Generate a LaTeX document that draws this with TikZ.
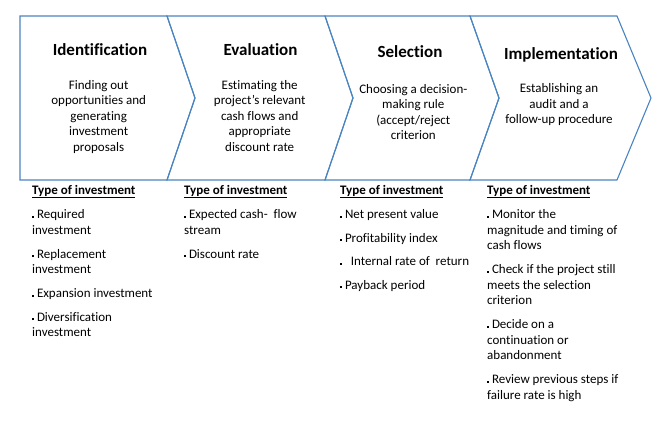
\documentclass[tikz,border=0pt]{standalone}
\usepackage{fontspec}
\setmainfont{Carlito}[Ligatures=NoCommon]
\usepackage{xcolor}
\usepackage{tikz}
\usetikzlibrary{positioning}

\definecolor{chevblue}{RGB}{74,132,192}
\newcommand\bul{\strut\rule[1pt]{1.8pt}{1.8pt}\hspace{3pt}}
\newcommand\hdline[1]{\setbox0\hbox{#1}\rlap{\rule[-3pt]{\wd0}{0.9pt}}\box0}

\begin{document}
\begin{tikzpicture}[x=1pt, y=-1pt,
    chev/.style={draw=chevblue, line width=1.1pt, line join=miter},
    title/.style={anchor=base, inner sep=0pt, font=\fontsize{17}{20}\selectfont\bfseries},
    desc/.style={anchor=north, inner sep=0pt, align=center, font=\fontsize{13}{15.5}\selectfont,
        execute at begin node=\strut, execute at end node=\strut},
    head/.style={anchor=base west, inner sep=0pt, font=\fontsize{13}{15.5}\selectfont\bfseries,
        execute at begin node=\strut},
    item/.style={inner sep=0pt, align=left, font=\fontsize{13}{15.5}\selectfont}]
    \useasboundingbox (0,0) rectangle (659,426);

    % chevrons
    \draw[chev] (20,16) -- (167,16) -- (195,98) -- (167,180) -- (20,180) -- cycle;
    \draw[chev] (167,16) -- (325,16) -- (353,98) -- (325,180) -- (167,180) -- (195,98) -- cycle;
    \draw[chev] (325,16) -- (470,16) -- (499,98) -- (470,180) -- (325,180) -- (353,98) -- cycle;
    \draw[chev] (470,16) -- (617,16) -- (651,98) -- (617,180) -- (470,180) -- (499,98) -- cycle;

    % stage titles and descriptions
    \node[title] (t1) at (100,55) {Identification};
    \node[title] (t2) at (260.5,55) {Evaluation};
    \node[title] (t3) at (410,57) {Selection};
    \node[title] (t4) at (561,59) {Implementation};

    \node[desc] (d1) at (98.7,80) {Finding out\\opportunities and\\generating\\investment\\proposals};
    \node[desc] (d2) at (259.7,80) {Estimating the\\project’s relevant\\cash flows and\\appropriate\\discount rate};
    \node[desc] (d3) at (413.3,84.2) {Choosing a decision-\\making rule\\(accept/reject\\criterion};
    \node[desc] (d4) at (559,83.5) {Establishing an\\audit and a\\follow-up procedure};

    % lists below (first lines spaced from the line above)
    \node[head] (h1) at (32,194.5) {\hdline{Type of investment}};
    \node[item, below=24pt of h1.north west, anchor=north west] (a1) {\bul Required\\investment};
    \node[item, below=39.5pt of a1.north west, anchor=north west] (a2) {\bul Replacement\\investment};
    \node[item, below=39.5pt of a2.north west, anchor=north west] (a3) {\bul Expansion investment};
    \node[item, below=23.5pt of a3.north west, anchor=north west] (a4) {\bul Diversification\\investment};

    \node[head] (h2) at (184,194.5) {\hdline{Type of investment}};
    \node[item, below=24pt of h2.north west, anchor=north west] (b1) {\bul Expected cash-~ flow\\stream};
    \node[item, below=39.5pt of b1.north west, anchor=north west] (b2) {\bul Discount rate};

    \node[head] (h3) at (340,194.5) {\hdline{Type of investment}};
    \node[item, below=24pt of h3.north west, anchor=north west] (c1) {\bul Net present value};
    \node[item, below=23.5pt of c1.north west, anchor=north west] (c2) {\bul Profitability index};
    \node[item, below=23.5pt of c2.north west, anchor=north west] (c3) {\bul~ Internal rate of~ return};
    \node[item, below=23.5pt of c3.north west, anchor=north west] (c4) {\bul Payback period};

    \node[head] (h4) at (487,194.5) {\hdline{Type of investment}};
    \node[item, below=24pt of h4.north west, anchor=north west] (e1) {\bul Monitor the\\magnitude and timing of\\cash flows};
    \node[item, below=55pt of e1.north west, anchor=north west] (e2) {\bul Check if the project still\\meets the selection\\criterion};
    \node[item, below=55pt of e2.north west, anchor=north west] (e3) {\bul Decide on a\\continuation or\\abandonment};
    \node[item, below=55pt of e3.north west, anchor=north west] (e4) {\bul Review previous steps if\\failure rate is high};
\end{tikzpicture}
\end{document}
